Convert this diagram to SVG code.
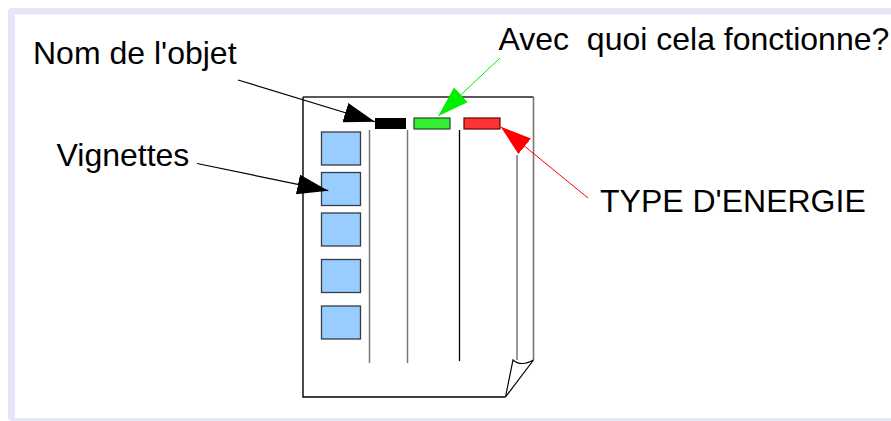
<svg xmlns="http://www.w3.org/2000/svg" width="891" height="421" viewBox="0 0 891 421">
<style>
.lbl{font-family:"Liberation Sans",Arial,sans-serif;font-size:32px;fill:#000}
.thumb{fill:#99ccff;stroke:#333c44;stroke-width:1.3}
.col{stroke:#777;stroke-width:1.5}
</style>
<defs>
<marker id="ahK" markerUnits="userSpaceOnUse" markerWidth="32" markerHeight="20" refX="31" refY="10" orient="auto"><path d="M0,0 L31,10 L0,20 z" fill="#000"/></marker>
<marker id="ahG" markerUnits="userSpaceOnUse" markerWidth="32" markerHeight="20" refX="31" refY="10" orient="auto"><path d="M0,0 L31,10 L0,20 z" fill="#00ee00"/></marker>
<marker id="ahR" markerUnits="userSpaceOnUse" markerWidth="32" markerHeight="20" refX="31" refY="10" orient="auto"><path d="M0,0 L31,10 L0,20 z" fill="#ff0000"/></marker>
</defs>
<rect x="8" y="8" width="1000" height="413" rx="4" fill="#e6e6fb"/>
<rect x="15" y="14.5" width="1000" height="403.5" fill="#fff"/>
<g id="page">
<path d="M303,97 H533.5" stroke="#222" stroke-width="1.4" fill="none"/>
<path d="M303,97 V397 H505.5" stroke="#000" stroke-width="1.4" fill="none"/>
<path d="M533.5,97 V360" stroke="#777" stroke-width="1.6" fill="none"/>
<path d="M505.5,397 L513,360 Q521,367 533.5,360 L505.5,397" stroke="#000" stroke-width="1.2" fill="#fff"/>
<line class="col" x1="369.5" y1="130" x2="369.5" y2="363"/>
<line class="col" x1="407.5" y1="130" x2="407.5" y2="363"/>
<line x1="459.5" y1="130" x2="459.5" y2="361" stroke="#000" stroke-width="1.3"/>
<line class="col" x1="517" y1="155" x2="517" y2="360"/>
</g>
<g id="vignettes">
<rect class="thumb" x="321.5" y="132" width="39" height="33"/>
<rect class="thumb" x="321.5" y="172.5" width="39" height="33"/>
<rect class="thumb" x="321.5" y="213" width="39" height="33"/>
<rect class="thumb" x="321.5" y="259.5" width="39" height="33"/>
<rect class="thumb" x="321.5" y="306" width="39" height="33"/>
</g>
<g id="bar-nom"><rect x="375" y="118" width="31" height="11" fill="#000"/></g>
<g id="bar-quoi"><rect x="414" y="118" width="36" height="11" fill="#33ee33" stroke="#1f4f1f" stroke-width="1.2"/></g>
<g id="bar-energie"><rect x="464" y="118" width="36" height="11" fill="#ff3333" stroke="#660000" stroke-width="1.2"/></g>
<g id="label-nom"><text class="lbl" x="33" y="64">Nom de l'objet</text></g>
<g id="label-quoi"><text class="lbl" x="498.5" y="50" xml:space="preserve">Avec  quoi cela fonctionne?</text></g>
<g id="label-vignettes"><text class="lbl" x="56.5" y="165.5">Vignettes</text></g>
<g id="label-energie"><text class="lbl" x="600" y="212">TYPE D'ENERGIE</text></g>
<g id="connectors" fill="none">
<line x1="238" y1="80" x2="375" y2="121.7" stroke="#000" stroke-width="1.2" marker-end="url(#ahK)"/>
<line x1="500" y1="58" x2="438.3" y2="116" stroke="#00ee00" stroke-width="1" marker-end="url(#ahG)"/>
<line x1="588" y1="198" x2="500.7" y2="126.7" stroke="#ff0000" stroke-width="1" marker-end="url(#ahR)"/>
<line x1="197" y1="163.5" x2="328.3" y2="190.7" stroke="#000" stroke-width="1.2" marker-end="url(#ahK)"/>
</g>
</svg>
